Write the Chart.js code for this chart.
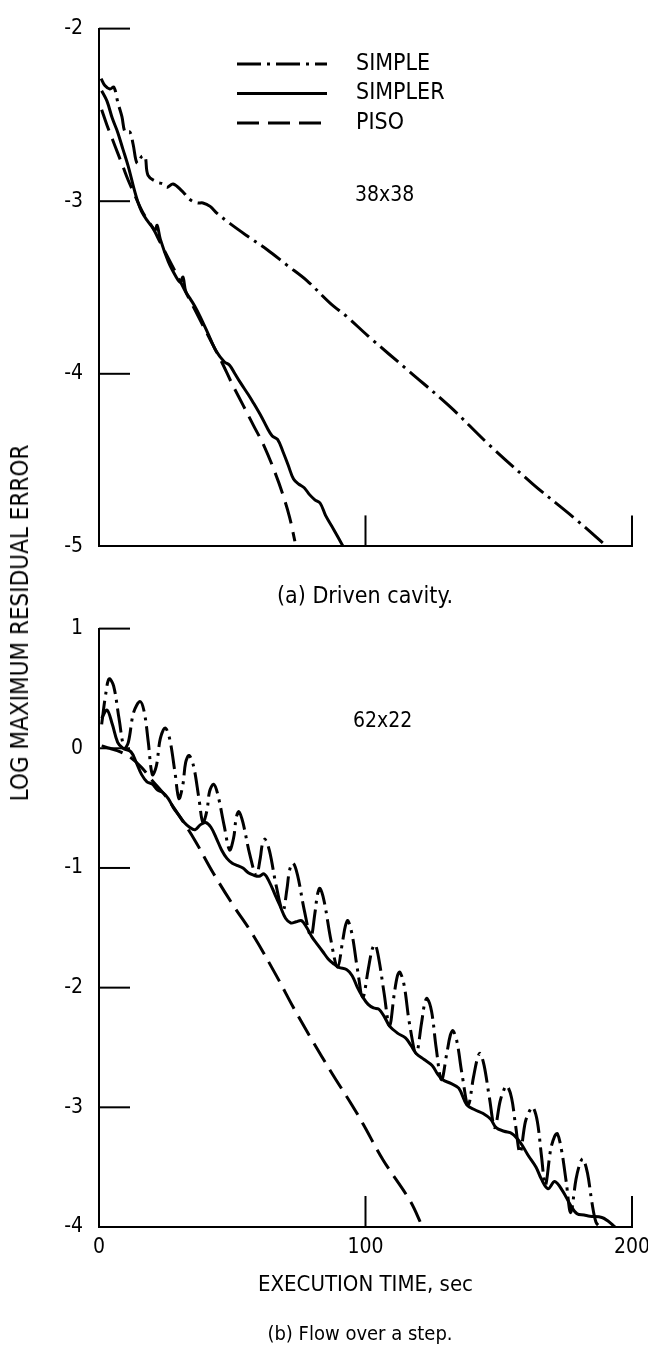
<!DOCTYPE html>
<html>
<head>
<meta charset="utf-8">
<script src="https://cdn.jsdelivr.net/npm/chart.js@4.4.0/dist/chart.umd.min.js"></script>
<style>
  body { margin: 0; background: #fff; width: 648px; height: 1347px; position: relative; overflow: hidden;
         font-family: "DejaVu Sans Condensed", "Liberation Sans Narrow", "DejaVu Sans", sans-serif; color: #000; }
  #topChart { position: absolute; left: 0; top: 0; }
  #bottomChart { position: absolute; left: 0; top: 600px; }
  .caption { position: absolute; white-space: nowrap; transform: translate(-50%, -50%); line-height: 1; }
  #yTitle { position: absolute; left: 20px; top: 623px; white-space: nowrap; font-size: 24px; line-height: 1;
            transform: translate(-50%, -50%) rotate(-90deg); }
</style>
</head>
<body>
<canvas id="topChart" width="648" height="575"></canvas>
<canvas id="bottomChart" width="648" height="747"></canvas>
<div id="yTitle">LOG MAXIMUM RESIDUAL ERROR</div>
<div class="caption" style="left:365px; top:595px; font-size:23px;">(a) Driven cavity.</div>
<div class="caption" style="left:360px; top:1333px; font-size:20px;">(b) Flow over a step.</div>
<script>
// Series names
const seriesNames = ['SIMPLE', 'SIMPLER', 'PISO'];

// Tick values
const xTicks = [0, 100, 200];
const topYTicks = [-2, -3, -4, -5];
const bottomYTicks = [1, 0, -1, -2, -3, -4];

// (a) Driven cavity, 38x38 grid  -- [execution time, log max residual]
const simpleCavity = [[0.8,-2.29],[2.2,-2.33],[4.1,-2.35],[5.6,-2.34],[7.1,-2.43],[8.6,-2.51],[9.8,-2.6],
  [11.6,-2.6],[12.8,-2.67],[14.3,-2.78],[16.1,-2.74],[17.3,-2.74],[18.4,-2.85],[21.8,-2.89],[24,-2.9],
  [25.5,-2.92],[27.8,-2.9],[31.1,-2.94],[34.1,-2.99],[36.8,-3.01],[39,-3.01],[41.7,-3.03],[44.3,-3.07],
  [49.2,-3.13],[55.5,-3.2],[63,-3.28],[70.5,-3.37],[78,-3.46],[86.7,-3.59],[93.1,-3.67],[100.9,-3.78],
  [116.7,-3.99],[131.7,-4.19],[145.6,-4.4],[162.9,-4.64],[177.9,-4.83],[190.6,-5]];
const simplerCavity = [[1,-2.36],[3,-2.42],[5,-2.52],[7,-2.6],[9,-2.7],[11,-2.8],[13,-2.92],[14.5,-3],
  [16,-3.06],[18,-3.11],[20,-3.15],[21,-3.17],[21.8,-3.14],[23,-3.22],[26,-3.35],[29,-3.44],[30.5,-3.47],
  [31.5,-3.44],[32.5,-3.52],[34,-3.56],[36,-3.61],[38,-3.67],[41,-3.77],[44,-3.87],[47,-3.93],[49,-3.95],
  [51,-4],[53,-4.05],[56,-4.12],[58,-4.17],[61,-4.25],[63,-4.31],[65,-4.36],[67,-4.38],[69,-4.45],
  [71,-4.53],[73,-4.61],[75,-4.64],[77,-4.66],[79,-4.7],[81,-4.73],[83,-4.75],[85,-4.82],[88,-4.9],[91.6,-5]];
const pisoCavity = [[1,-2.47],[3,-2.56],[5,-2.64],[7,-2.72],[9,-2.8],[11,-2.88],[13,-2.95],[15,-3.02],
  [17,-3.08],[20,-3.15],[23,-3.24],[26,-3.33],[30,-3.45],[34,-3.57],[38,-3.69],[42,-3.81],[46,-3.93],
  [50,-4.06],[54,-4.18],[58,-4.3],[62,-4.42],[66,-4.57],[69,-4.7],[71.5,-4.83],[73.5,-4.97]];

// (b) Flow over a step, 62x22 grid
const simpleStep = [[1,0.2],[2.5,0.45],[3.8,0.58],[5.5,0.52],[7.5,0.25],[9.5,0],
  [11,0.05],[13,0.3],[15.4,0.39],[17,0.3],[18.5,0.05],[20,-0.22],
  [21.5,-0.15],[23,0.08],[24.8,0.17],[26.5,0.08],[28.5,-0.2],[30,-0.42],
  [31.5,-0.3],[32.5,-0.12],[33.8,-0.06],[35.5,-0.15],[37.5,-0.42],[39,-0.62],
  [40.5,-0.52],[41.5,-0.36],[43,-0.3],[44.5,-0.38],[47,-0.65],[49,-0.85],
  [50.5,-0.75],[51.5,-0.58],[52.5,-0.53],[54,-0.62],[56.5,-0.88],[59,-1.06],
  [60.5,-0.92],[61.3,-0.8],[62.3,-0.76],[64,-0.86],[66.5,-1.15],[69,-1.36],
  [70.5,-1.18],[71.5,-1.02],[72.8,-0.96],[74.5,-1.06],[77,-1.35],[79.5,-1.57],
  [81,-1.38],[82,-1.22],[82.9,-1.17],[84.5,-1.28],[87,-1.6],[89.5,-1.83],
  [91.5,-1.6],[92.5,-1.48],[93.4,-1.44],[95,-1.56],[97,-1.85],[99,-2.08],
  [101,-1.85],[102.5,-1.68],[103.6,-1.64],[105,-1.76],[107,-2.05],[109,-2.32],
  [110.8,-2.05],[112,-1.9],[112.9,-1.87],[114.5,-1.98],[116.5,-2.3],[119,-2.55],
  [121,-2.3],[122.2,-2.13],[123.1,-2.09],[124.8,-2.2],[126.5,-2.5],[128.5,-2.77],
  [130.5,-2.55],[131.8,-2.4],[132.8,-2.36],[134.3,-2.45],[136.2,-2.72],[138.5,-2.98],
  [140.5,-2.75],[142,-2.59],[143,-2.55],[144.5,-2.65],[146.5,-2.92],[148.5,-3.17],
  [150.5,-2.95],[152,-2.85],[153.1,-2.82],[154.8,-2.92],[156.3,-3.15],[158,-3.38],
  [160,-3.12],[161.8,-3.02],[162.9,-3],[164.5,-3.12],[166,-3.4],[167.5,-3.65],
  [169.5,-3.35],[171,-3.24],[172,-3.22],[173.5,-3.35],[175.3,-3.62],[177,-3.88],
  [179,-3.6],[180.6,-3.46],[181.6,-3.43],[183.3,-3.55],[185,-3.8],[186.5,-3.96],[188,-4]];
const simplerStep = [[1,0.25],[3,0.32],[5,0.2],[7,0.05],[9,0],[12,-0.03],[14,-0.12],[16,-0.22],
  [18,-0.28],[20,-0.3],[22,-0.35],[24,-0.37],[26,-0.42],[28,-0.5],[30,-0.56],[32,-0.62],[34,-0.66],
  [36,-0.68],[38,-0.64],[40,-0.62],[42,-0.66],[44,-0.75],[46,-0.85],[48,-0.92],[50,-0.96],[52,-0.98],
  [54,-1],[56,-1.04],[58,-1.06],[60,-1.07],[62,-1.05],[64,-1.12],[66,-1.22],[68,-1.32],[70,-1.42],
  [72,-1.46],[74,-1.45],[76,-1.44],[78,-1.5],[80,-1.58],[82,-1.64],[84,-1.7],[86,-1.76],[88,-1.8],
  [90,-1.83],[93,-1.85],[95,-1.9],[97,-2],[99,-2.08],[101,-2.14],[103,-2.17],[105,-2.18],[107,-2.24],
  [109,-2.32],[112,-2.38],[115,-2.42],[117,-2.48],[119,-2.55],[122,-2.6],[125,-2.65],[127,-2.72],
  [129,-2.77],[132,-2.8],[135,-2.84],[138,-2.98],[141,-3.02],[144,-3.05],[147,-3.1],[149,-3.17],
  [152,-3.2],[155,-3.22],[158,-3.29],[161,-3.4],[164,-3.5],[166,-3.6],[168.5,-3.68],[171,-3.62],
  [174,-3.7],[177,-3.82],[179.4,-3.89],[182,-3.9],[184.2,-3.91],[188.7,-3.92],[191,-3.95],[193.6,-4]];
const pisoStep = [[1,0.02],[4,0],[8,-0.03],[12,-0.08],[16,-0.16],[20,-0.27],[25,-0.4],[30,-0.56],
  [36,-0.77],[42.8,-1.04],[50.3,-1.31],[57.8,-1.56],[66.8,-1.91],[72.8,-2.16],[79.2,-2.41],[87.8,-2.73],
  [94.9,-2.98],[99.1,-3.14],[106.6,-3.44],[116.7,-3.78],[121.2,-3.99]];

const INK = '#000';
const FONT = '"DejaVu Sans Condensed", "Liberation Sans Narrow", "DejaVu Sans", sans-serif';
const TICK_LEN = 31;
const styles = [
  { borderDash: [24, 6, 3, 6] },   // SIMPLE: chain line
  { borderDash: [] },              // SIMPLER: solid
  { borderDash: [22, 9] }          // PISO: dashed
];

function makeDatasets(seriesList) {
  return seriesList.map((pts, i) => ({
    label: seriesNames[i],
    data: pts.map(p => ({ x: p[0], y: p[1] })),
    borderColor: INK,
    borderWidth: 3,
    borderDash: styles[i].borderDash,
    pointRadius: 0,
    tension: 0.35,
    fill: false
  }));
}

// Draws inward tick marks, grid-size note and the line-style key
const paperPlugin = {
  id: 'paper',
  afterDraw(chart, args, opts) {
    const { ctx, chartArea, scales } = chart;
    ctx.save();
    ctx.strokeStyle = INK;
    ctx.lineWidth = 2;
    ctx.setLineDash([]);
    opts.yMarks.forEach(v => {
      const y = scales.y.getPixelForValue(v);
      ctx.beginPath(); ctx.moveTo(chartArea.left, y); ctx.lineTo(chartArea.left + TICK_LEN, y); ctx.stroke();
    });
    opts.xMarks.forEach(v => {
      const x = scales.x.getPixelForValue(v);
      ctx.beginPath(); ctx.moveTo(x, chartArea.bottom); ctx.lineTo(x, chartArea.bottom - TICK_LEN); ctx.stroke();
    });
    ctx.fillStyle = INK;
    ctx.textBaseline = 'middle';
    ctx.textAlign = 'left';
    ctx.font = '21px ' + FONT;
    ctx.fillText(opts.note, opts.noteX, opts.noteY);
    if (opts.legend) {
      const L = opts.legend;
      chart.data.datasets.forEach((ds, i) => {
        const y = L.y + i * L.rowGap;
        ctx.lineWidth = ds.borderWidth;
        ctx.setLineDash(ds.borderDash);
        ctx.beginPath(); ctx.moveTo(L.x0, y); ctx.lineTo(L.x1, y); ctx.stroke();
        ctx.setLineDash([]);
        ctx.font = '23px ' + FONT;
        ctx.fillText(ds.label, L.textX, y);
      });
    }
    ctx.restore();
  }
};

function makeOptions(yTicks, cfg) {
  return {
    responsive: false,
    animation: false,
    layout: { padding: { left: 0, right: 16, top: cfg.padTop, bottom: 0 } },
    plugins: {
      legend: { display: false },
      tooltip: { enabled: false },
      paper: cfg.paper
    },
    scales: {
      x: {
        type: 'linear',
        min: 0, max: 200,
        afterBuildTicks: s => { s.ticks = xTicks.map(v => ({ value: v })); },
        // fixed box height; let the end labels overhang instead of shrinking the plot
        afterFit: s => { s.height = cfg.xHeight; s.paddingLeft = 0; s.paddingRight = 0; },
        grid: { display: false, drawTicks: false },
        border: { display: true, color: INK, width: 2 },
        ticks: { display: cfg.xLabels, color: INK, padding: 8, maxRotation: 0, font: { family: FONT, size: 21 } },
        title: cfg.xTitle
      },
      y: {
        type: 'linear',
        min: yTicks[yTicks.length - 1], max: yTicks[0],
        afterBuildTicks: s => { s.ticks = yTicks.map(v => ({ value: v })); },
        afterFit: s => { s.width = 99; },
        grid: { display: false, drawTicks: false },
        border: { display: true, color: INK, width: 2 },
        ticks: { color: INK, padding: 16, callback: v => String(v), font: { family: FONT, size: 21 } }
      }
    }
  };
}

new Chart(document.getElementById('topChart'), {
  type: 'line',
  data: { datasets: makeDatasets([simpleCavity, simplerCavity, pisoCavity]) },
  options: makeOptions(topYTicks, {
    padTop: 21,
    xHeight: 18,
    xLabels: false,
    xTitle: { display: false },
    paper: {
      yMarks: [-2, -3, -4], xMarks: [100, 200],
      note: '38x38', noteX: 355, noteY: 196,
      legend: { x0: 237, x1: 327, textX: 356, y: 64, rowGap: 29.5 }
    }
  }),
  plugins: [paperPlugin]
});

new Chart(document.getElementById('bottomChart'), {
  type: 'line',
  data: { datasets: makeDatasets([simpleStep, simplerStep, pisoStep]) },
  options: makeOptions(bottomYTicks, {
    padTop: 19,
    xHeight: 120,
    xLabels: true,
    xTitle: { display: true, text: 'EXECUTION TIME, sec', color: INK,
              font: { family: FONT, size: 22 }, padding: { top: 0, bottom: 49 } },
    paper: {
      yMarks: [1, 0, -1, -2, -3], xMarks: [100, 200],
      note: '62x22', noteX: 353, noteY: 122
    }
  }),
  plugins: [paperPlugin]
});
</script>
</body>
</html>
